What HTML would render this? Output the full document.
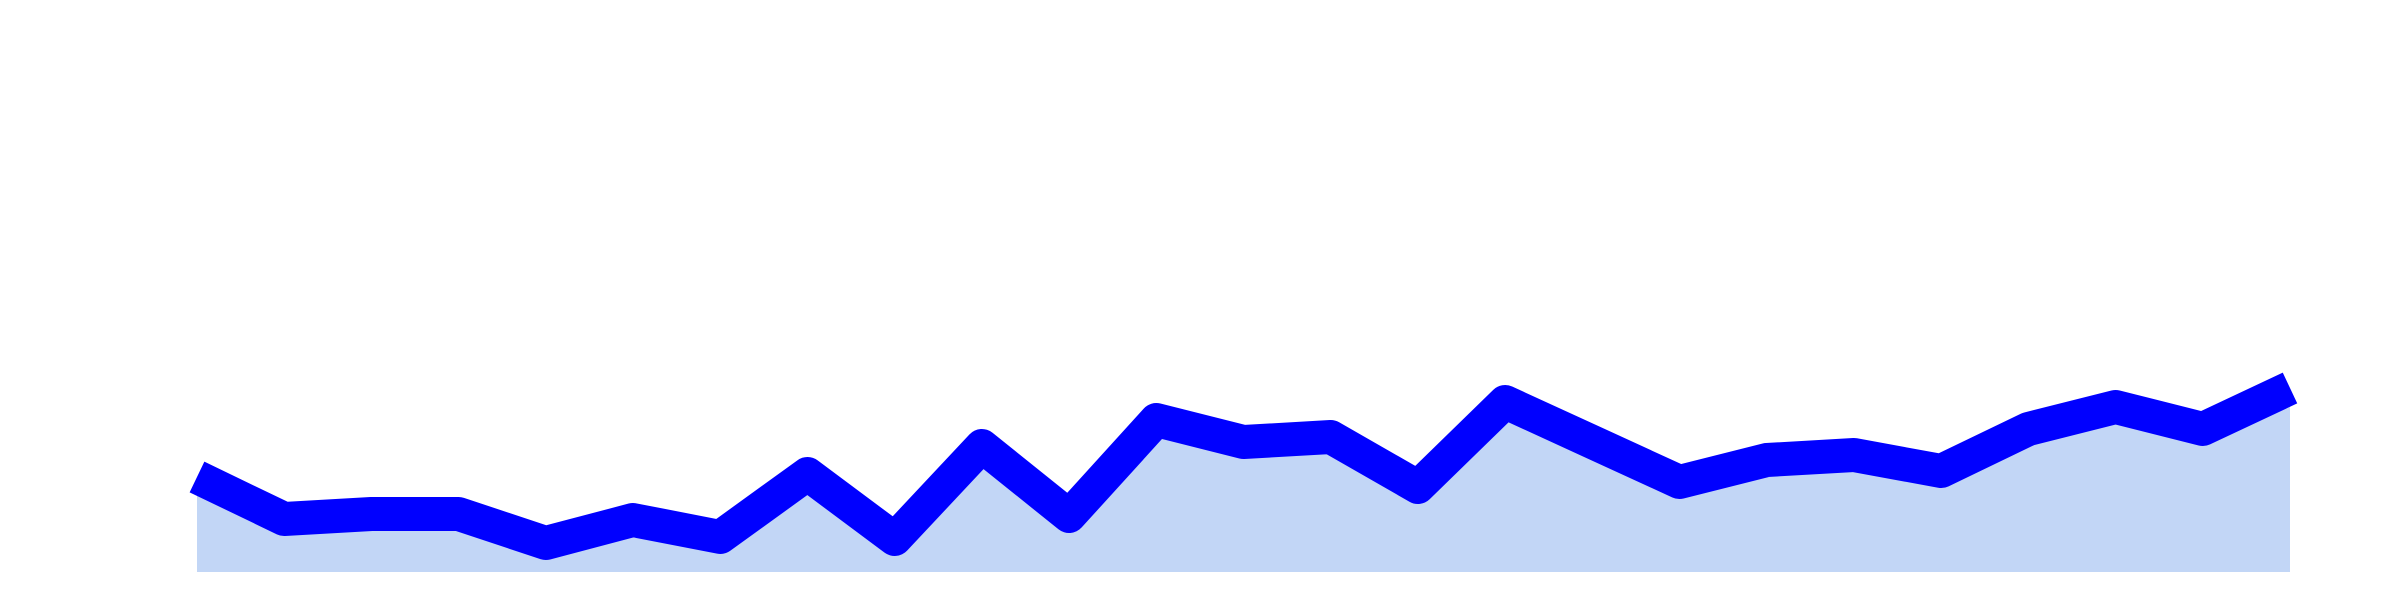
<!DOCTYPE html>
<html><head><meta charset="utf-8"><style>
html,body{margin:0;padding:0;background:#fff;}
svg{display:block;}
</style></head>
<body>
<svg id="chart" width="2400" height="600" viewBox="0 0 2400 600" xmlns="http://www.w3.org/2000/svg">
<rect x="0" y="0" width="2400" height="600" fill="#ffffff"/>
<g id="plot"></g>
</svg>
<script>
const categories = [1,2,3,4,5,6,7,8,9,10,11,12,13,14,15,16,17,18,19,20,21,22,23,24,25];
const values = [95,53,58,58,29,52,35,98,33,126,56,152,130,135,85,170,130,90,112,117,101,143,165,143,184];
const yMin = 0, yMax = 572;
const X0 = 197, X1 = 2290, BASE = 572, TOP = 0;
function xScale(i){ return X0 + i*(X1-X0)/(categories.length-1); }
function yScale(v){ return BASE - (v-yMin)/(yMax-yMin)*(BASE-TOP); }
const ns = 'http://www.w3.org/2000/svg';
const g = document.getElementById('plot');
let pts = values.map((v,i)=>[xScale(i), yScale(v)]);
let line = pts.map((p,i)=>(i?'L':'M')+p[0].toFixed(1)+','+p[1].toFixed(1)).join(' ');
let area = line + ` L${xScale(values.length-1)},${BASE} L${xScale(0)},${BASE} Z`;
const a = document.createElementNS(ns,'path');
a.setAttribute('d', area);
a.setAttribute('fill', '#c2d6f6');


g.appendChild(a);
const l = document.createElementNS(ns,'path');
l.setAttribute('d', line);
l.setAttribute('fill', 'none');
l.setAttribute('stroke', '#0000ff');
l.setAttribute('stroke-width', '34');
l.setAttribute('stroke-linejoin', 'round');
l.setAttribute('stroke-linecap', 'butt');


g.appendChild(l);
</script>
</body></html>
